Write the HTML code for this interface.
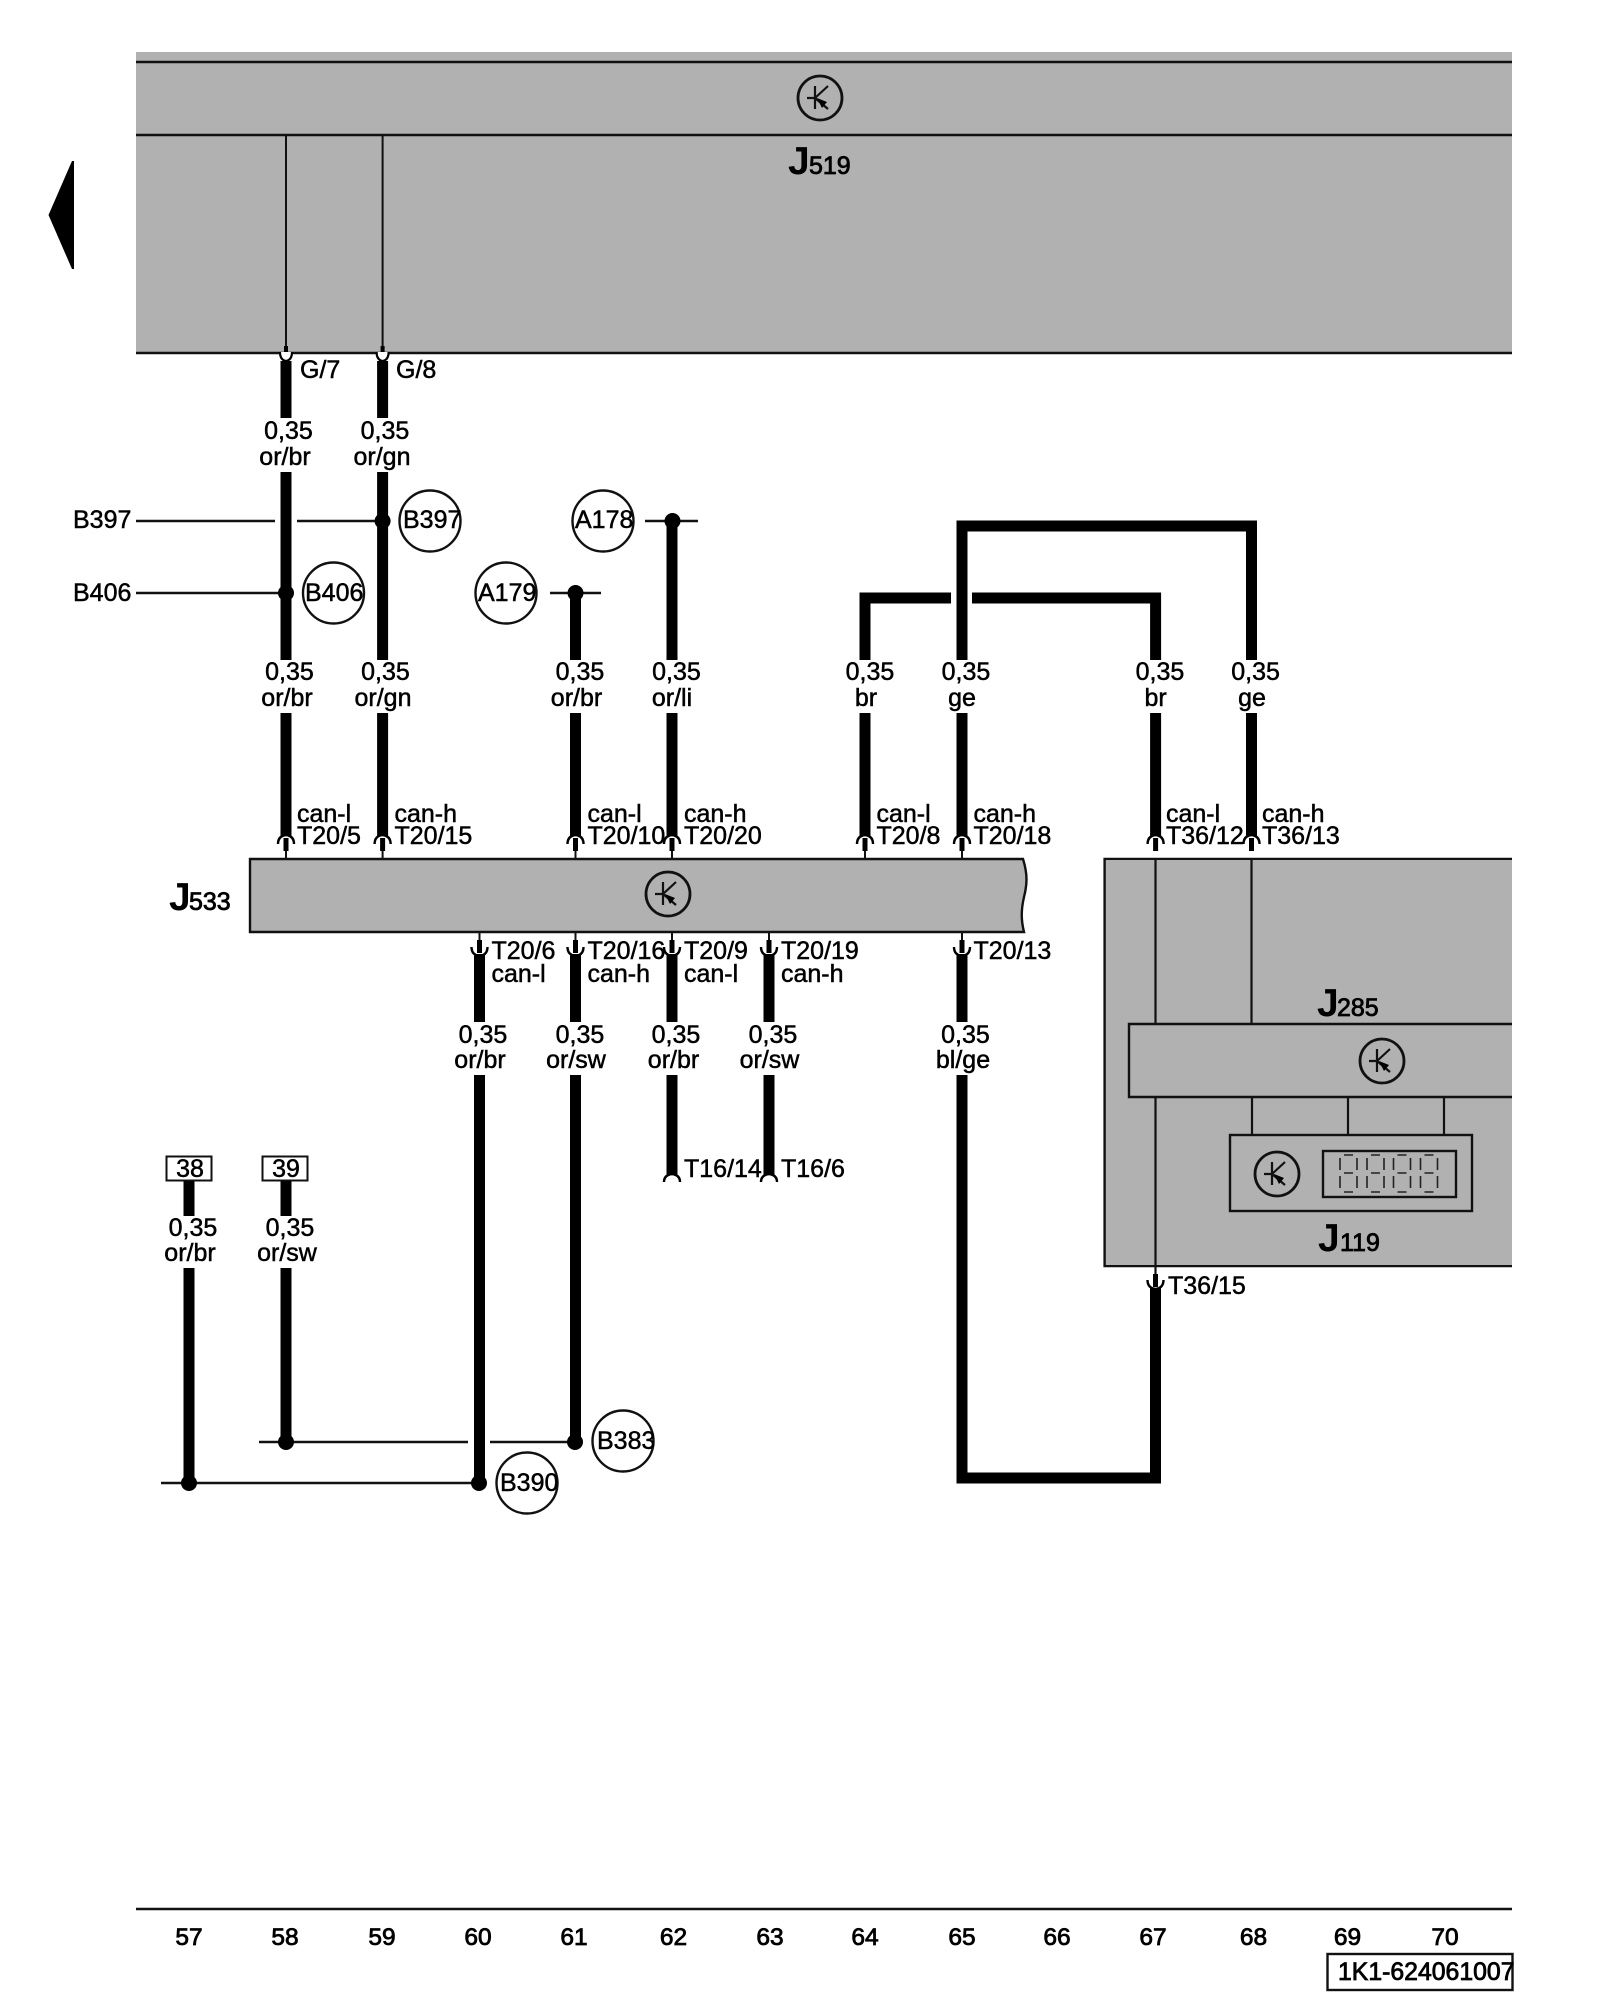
<!DOCTYPE html>
<html>
<head>
<meta charset="utf-8">
<style>
html,body{margin:0;padding:0;background:#fff;}
svg{display:block;}
text{font-family:"Liberation Sans",Arial,sans-serif;font-size:25px;fill:#000;stroke:#000;stroke-width:.5px;}
.m{text-anchor:middle;}
.J{font-size:39px;font-weight:bold;stroke:none;}
.s{font-size:25px;stroke-width:.8px;}
.n{font-size:24.5px;stroke-width:.8px;text-anchor:middle;}
.t{stroke:#111;stroke-width:2.4;fill:none;}
.c{stroke:#111;stroke-width:2;fill:#fff;}
.w{stroke:#000;stroke-width:11;fill:none;}
</style>
</head>
<body>
<svg width="1600" height="2000" viewBox="0 0 1600 2000" xmlns="http://www.w3.org/2000/svg">
<defs>
<g id="sym">
  <circle r="22" fill="none" stroke="#111" stroke-width="2.8"/>
  <path d="M-13 0H-5M-5 -12V11M-5 0L8 -12M-5 0L8 11" fill="none" stroke="#111" stroke-width="2.2"/>
  <path d="M-3 0L7 4L2 10Z" fill="#000"/>
</g>
<g id="up">
  <path d="M0 0V-10" stroke="#111" stroke-width="2"/>
  <rect x="-2.5" y="-21" width="5" height="13" fill="#000"/>
  <path d="M-8 -15Q-8 -23 0 -24Q8 -23 8 -15" fill="none" stroke="#000" stroke-width="2.4"/>
</g>
<g id="dn">
  <path d="M0 0V10" stroke="#111" stroke-width="2"/>
  <rect x="-2.5" y="8" width="5" height="13" fill="#000"/>
  <path d="M-8 15Q-8 23 0 24Q8 23 8 15" fill="none" stroke="#000" stroke-width="2.4"/>
</g>
<g id="dig" fill="none" stroke="#222" stroke-width="1.6">
  <path d="M4 0H13M4 18H13M4 37H13M0 3V15M17 3V15M0 21V33M17 21V33"/>
</g>
</defs>

<!-- left arrow -->
<path d="M74 161L72 161L48.5 215L72 269L74 269Z" fill="#000"/>

<!-- J519 block -->
<rect x="136" y="52" width="1376" height="301" fill="#b1b1b1"/>
<path class="t" d="M136 62H1512M136 135H1512M136 353H1512"/>
<path d="M286 135V348M382.6 135V348" stroke="#111" stroke-width="2" fill="none"/>
<use href="#sym" x="820" y="98"/>
<text class="J" x="788" y="174">J</text><text class="s" x="809" y="174">519</text>

<!-- pins G/7 G/8 -->
<rect x="284" y="346" width="4" height="9" fill="#000"/>
<rect x="380.6" y="346" width="4" height="9" fill="#000"/>
<path d="M280 352Q280 360 286 361Q292 360 292 352" fill="#fff" stroke="#000" stroke-width="2.2"/>
<path d="M376.6 352Q376.6 360 382.6 361Q388.6 360 388.6 352" fill="#fff" stroke="#000" stroke-width="2.2"/>

<!-- thick wires top -->
<path class="w" d="M286 361V418M286 472V660M286 713V836"/>
<path class="w" d="M382.6 361V418M382.6 472V660M382.6 713V836"/>
<path class="w" d="M575.5 593V660M575.5 713V836"/>
<path class="w" d="M672 521V660M672 713V836"/>
<path class="w" d="M865 660V598H951M972 598H1155.6V660M865 713V836M1155.6 713V836"/>
<path class="w" d="M962 660V526H1251.5V660M962 713V836M1251.5 713V836"/>

<!-- thin horizontals -->
<path class="t" d="M136 521H275M297 521H382.6M136 593H286M645 521H698M550 593H601"/>
<circle cx="382.6" cy="521" r="8" fill="#000"/>
<circle cx="286" cy="593" r="8" fill="#000"/>
<circle cx="672.5" cy="521" r="8" fill="#000"/>
<circle cx="575.5" cy="593" r="8" fill="#000"/>

<!-- callout circles -->
<circle cx="430" cy="521" r="30.5" class="t"/><circle cx="603" cy="521" r="30.5" class="t"/>
<circle cx="506" cy="593" r="30.5" class="t"/><circle cx="333.5" cy="593" r="30.5" class="t"/>
<circle cx="623" cy="1441" r="30.5" class="t"/><circle cx="527" cy="1483" r="30.5" class="t"/>

<text x="403" y="528">B397</text><text x="575" y="528">A178</text>
<text x="478" y="601">A179</text><text x="305" y="601">B406</text>
<text x="73" y="528">B397</text><text x="73" y="601">B406</text>
<text x="597" y="1449">B383</text><text x="500" y="1491">B390</text>
<text x="300" y="378">G/7</text><text x="396" y="378">G/8</text>

<!-- wire labels row 1 -->
<text class="m" x="288.5" y="439">0,35</text><text class="m" x="285" y="465">or/br</text>
<text class="m" x="385" y="439">0,35</text><text class="m" x="382" y="465">or/gn</text>

<!-- wire labels row 2 -->
<text class="m" x="289.5" y="680">0,35</text><text class="m" x="287" y="706">or/br</text>
<text class="m" x="385.5" y="680">0,35</text><text class="m" x="383" y="706">or/gn</text>
<text class="m" x="580" y="680">0,35</text><text class="m" x="576.5" y="706">or/br</text>
<text class="m" x="676.5" y="680">0,35</text><text class="m" x="672" y="706">or/li</text>
<text class="m" x="870" y="680">0,35</text><text class="m" x="866" y="706">br</text>
<text class="m" x="966" y="680">0,35</text><text class="m" x="962" y="706">ge</text>
<text class="m" x="1160" y="680">0,35</text><text class="m" x="1155.6" y="706">br</text>
<text class="m" x="1255.6" y="680">0,35</text><text class="m" x="1252" y="706">ge</text>

<!-- pins labels top of J533 -->
<text x="297" y="822">can-l</text><text x="297" y="844">T20/5</text>
<text x="394.5" y="822">can-h</text><text x="394.5" y="844">T20/15</text>
<text x="587.5" y="822">can-l</text><text x="587.5" y="844">T20/10</text>
<text x="684" y="822">can-h</text><text x="684" y="844">T20/20</text>
<text x="876.5" y="822">can-l</text><text x="876.5" y="844">T20/8</text>
<text x="973.5" y="822">can-h</text><text x="973.5" y="844">T20/18</text>
<text x="1166" y="822">can-l</text><text x="1166" y="844">T36/12</text>
<text x="1262" y="822">can-h</text><text x="1262" y="844">T36/13</text>

<!-- big block J119 -->
<path d="M1512 859H1104.6V1266H1512" fill="#b1b1b1" stroke="#111" stroke-width="2.4"/>
<rect x="1106" y="860" width="406" height="405" fill="#b1b1b1"/>
<!-- J285 -->
<path d="M1512 1024H1129V1097H1512" class="t"/>
<path d="M1155.5 859V1024M1251.5 859V1024M1155.5 1097V1282M1252 1097V1135M1348 1097V1135M1444 1097V1135" stroke="#111" stroke-width="2.2" fill="none"/>
<use href="#sym" x="1382" y="1061"/>
<text class="J" x="1317" y="1016">J</text><text class="s" x="1337" y="1016">285</text>
<!-- J119 inner -->
<rect x="1230" y="1135" width="242" height="76" class="t"/>
<use href="#sym" x="1277" y="1174"/>
<rect x="1323" y="1151" width="133" height="46" class="t"/>
<use href="#dig" x="1340" y="1155"/><use href="#dig" x="1367" y="1155"/><use href="#dig" x="1393.5" y="1155"/><use href="#dig" x="1420.5" y="1155"/>
<text class="J" x="1318" y="1251">J</text><text class="s" x="1340" y="1251">119</text>

<!-- J533 -->
<path d="M250 859H1023C1028 875 1027 885 1024 897C1021 910 1021 920 1024 932H250Z" fill="#b1b1b1" stroke="#111" stroke-width="2.4"/>
<use href="#sym" x="668" y="894"/>
<text class="J" x="169" y="910">J</text><text class="s" x="189" y="910">533</text>

<!-- connectors top -->
<use href="#up" x="286" y="859"/><use href="#up" x="382.6" y="859"/>
<use href="#up" x="575.5" y="859"/><use href="#up" x="672" y="859"/>
<use href="#up" x="865" y="859"/><use href="#up" x="962" y="859"/>
<rect x="1153.1" y="838" width="5" height="13" fill="#000"/>
<path d="M1147.6 844Q1147.6 836 1155.6 835Q1163.6 836 1163.6 844" fill="none" stroke="#000" stroke-width="2.4"/>
<rect x="1249" y="838" width="5" height="13" fill="#000"/>
<path d="M1243.5 844Q1243.5 836 1251.5 835Q1259.5 836 1259.5 844" fill="none" stroke="#000" stroke-width="2.4"/>

<!-- connectors bottom -->
<use href="#dn" x="479.5" y="932"/><use href="#dn" x="575.5" y="932"/>
<use href="#dn" x="672" y="932"/><use href="#dn" x="769" y="932"/><use href="#dn" x="962" y="932"/>

<!-- wires below J533 -->
<path class="w" d="M479.5 954V1022M479.5 1075V1483"/>
<path class="w" d="M575.5 954V1022M575.5 1075V1442"/>
<path class="w" d="M672 954V1022M672 1075V1176"/>
<path class="w" d="M769 954V1022M769 1075V1176"/>
<path d="M664 1182Q664 1175 672 1174Q680 1175 680 1182M761 1182Q761 1175 769 1174Q777 1175 777 1182" fill="#fff" stroke="#000" stroke-width="2.4"/>
<path class="w" d="M962 954V1022M962 1075V1478H1155.5V1288"/>
<rect x="1153" y="1274" width="5" height="13" fill="#000"/>
<path d="M1147.5 1280Q1147.5 1288 1155.5 1289Q1163.5 1288 1163.5 1280" fill="none" stroke="#000" stroke-width="2.4"/>

<text x="491.5" y="959">T20/6</text><text x="491.5" y="982">can-l</text>
<text x="587.5" y="959">T20/16</text><text x="587.5" y="982">can-h</text>
<text x="684" y="959">T20/9</text><text x="684" y="982">can-l</text>
<text x="781" y="959">T20/19</text><text x="781" y="982">can-h</text>
<text x="973.5" y="959">T20/13</text>
<text x="1168" y="1294">T36/15</text>

<text class="m" x="483" y="1043">0,35</text><text class="m" x="480" y="1068">or/br</text>
<text class="m" x="580" y="1043">0,35</text><text class="m" x="576" y="1068">or/sw</text>
<text class="m" x="676" y="1043">0,35</text><text class="m" x="673.5" y="1068">or/br</text>
<text class="m" x="773" y="1043">0,35</text><text class="m" x="769.5" y="1068">or/sw</text>
<text class="m" x="965.5" y="1043">0,35</text><text class="m" x="963" y="1068">bl/ge</text>

<text x="684" y="1177">T16/14</text><text x="781" y="1177">T16/6</text>

<!-- 38 / 39 -->
<rect x="166.5" y="1156.5" width="45" height="24" fill="#fff" stroke="#111" stroke-width="2"/>
<rect x="262.5" y="1156.5" width="45" height="24" fill="#fff" stroke="#111" stroke-width="2"/>
<text class="m" x="190" y="1177">38</text><text class="m" x="286" y="1177">39</text>
<path class="w" d="M189 1181V1216M189 1268V1483M286 1181V1216M286 1268V1442"/>
<text class="m" x="193" y="1236">0,35</text><text class="m" x="190" y="1261">or/br</text>
<text class="m" x="290" y="1236">0,35</text><text class="m" x="287" y="1261">or/sw</text>

<path class="t" d="M259 1442H468M490 1442H575M161 1483H479"/>
<circle cx="286" cy="1442" r="8" fill="#000"/><circle cx="575" cy="1442" r="8" fill="#000"/>
<circle cx="189" cy="1483" r="8" fill="#000"/><circle cx="479" cy="1483" r="8" fill="#000"/>

<!-- bottom ruler -->
<path class="t" d="M136 1909H1512"/>
<text class="n" x="189" y="1945">57</text><text class="n" x="285" y="1945">58</text>
<text class="n" x="382" y="1945">59</text><text class="n" x="478" y="1945">60</text>
<text class="n" x="574" y="1945">61</text><text class="n" x="673.5" y="1945">62</text>
<text class="n" x="770" y="1945">63</text><text class="n" x="865" y="1945">64</text>
<text class="n" x="962" y="1945">65</text><text class="n" x="1057" y="1945">66</text>
<text class="n" x="1153" y="1945">67</text><text class="n" x="1253.5" y="1945">68</text>
<text class="n" x="1347.5" y="1945">69</text><text class="n" x="1445" y="1945">70</text>
<rect x="1327.5" y="1954" width="185" height="36" fill="#fff" stroke="#111" stroke-width="2.4"/>
<text x="1338" y="1980" style="font-size:24.8px;stroke-width:.8px">1K1-624061007</text>
</svg>
</body>
</html>
